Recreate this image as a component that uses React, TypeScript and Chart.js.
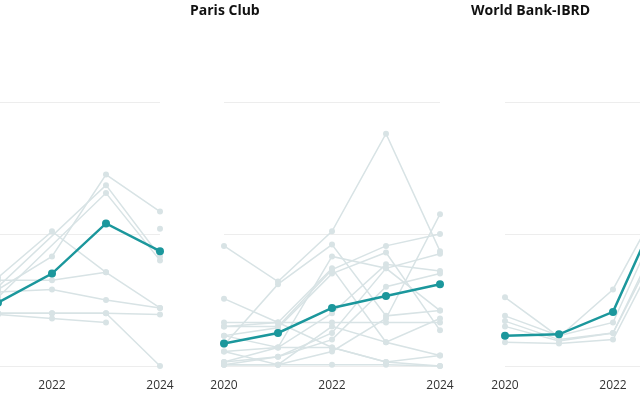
import React, { useEffect, useRef } from "react";
import { Chart, registerables } from "chart.js";

Chart.register(...registerables);

// ---- data ----
const years = ["2020", "2021", "2022", "2023", "2024"];

// left panel (cut off at the left edge of the picture)
const leftHighlight = [2.7, 4.8, 7.0, 10.8, 8.7];
const leftOthers: (number | null)[][] = [
  [5.0, 5.8, 8.3, 14.5, 11.7],
  [4.6, 6.0, null, 13.7, 8.3],
  [5.0, 5.2, null, 13.1, 8.0],
  [6.1, 6.7, 10.2, 7.1, 4.4],
  [6.3, 6.5, 6.5, 7.1, null],
  [5.4, 5.6, 5.8, 5.0, 4.4],
  [4.0, 4.0, 4.0, 4.0, 3.9],
  [4.0, 3.9, 3.6, 3.3, null],
  [3.5, 4.0, 4.0, 4.0, 0.0],
  [null, null, null, null, 10.4],
];

// Paris Club
const parisHighlight = [1.7, 2.5, 4.4, 5.3, 6.2];
const parisOthers: (number | null)[][] = [
  [9.1, 6.4, 10.2, 17.6, 8.7],
  [1.6, 6.2, 9.2, 3.8, 4.2],
  [5.1, 3.3, 1.4, 0.3, 0.8],
  [3.3, 3.3, 3.3, 3.3, 3.3],
  [3.0, 3.0, 7.3, 9.1, 10.0],
  [2.3, 2.9, 7.0, 8.6, 2.7],
  [1.1, 1.4, 4.0, 7.7, 7.2],
  [0.3, 0.7, 2.0, 6.0, 7.0],
  [0.1, 0.1, 1.1, 3.6, 11.5],
  [0.1, 0.7, 2.5, 7.4, 8.5],
  [1.1, 0.1, 3.0, 1.8, 3.6],
  [0.3, 1.4, 1.4, 0.3, 0.0],
  [0.1, 0.1, 0.1, 0.1, 0.0],
  [2.3, 1.4, 8.3, 7.4, 4.2],
  [3.0, 3.3, 7.4, 1.8, 0.8],
];

// World Bank-IBRD
const ibrdHighlight = [2.3, 2.4, 4.1, 13.2, 14.8];
const ibrdOthers: (number | null)[][] = [
  [5.2, 2.2, 5.8, 13.3, 12.6],
  [3.8, 2.3, 3.3, 12.3, 11.8],
  [3.4, 2.0, 2.5, 11.0, 10.3],
  [1.8, 1.7, 2.0, 9.9, 9.4],
  [3.0, 1.9, 2.5, 10.5, 10.0],
];

const yMin = 0;
const yMax = 20;
const yStep = 10;

// ---- styles ----
const TEAL = "#1b979c";
const GREY = "#d8e3e5";
const GRID = "#ededed";
const PLOT_W = 216;
const PAD = 24;
const TOP = 102;
const BOTTOM = 366;
const H = 400;

type PanelProps = {
  left: number;
  title?: string;
  highlight: (number | null)[];
  others: (number | null)[][];
};

function Panel({ left, title, highlight, others }: PanelProps) {
  const ref = useRef<HTMLCanvasElement>(null);
  useEffect(() => {
    if (!ref.current) return;
    const datasets: any[] = [
      {
        data: highlight,
        borderColor: TEAL,
        backgroundColor: TEAL,
        pointBackgroundColor: TEAL,
        borderWidth: 2.5,
        pointRadius: 4,
        pointBorderWidth: 0,
        order: 0,
        clip: false,
        spanGaps: true,
      },
      ...others.map((d) => ({
        data: d,
        borderColor: GREY,
        backgroundColor: GREY,
        pointBackgroundColor: GREY,
        borderWidth: 1.5,
        pointRadius: 3,
        pointBorderWidth: 0,
        order: 1,
        clip: false,
        spanGaps: true,
      })),
    ];
    const chart = new Chart(ref.current, {
      type: "line",
      data: { labels: years, datasets },
      options: {
        animation: false,
        responsive: false,
        maintainAspectRatio: false,
        events: [],
        layout: { padding: { left: PAD, right: PAD, top: TOP, bottom: 0 } },
        plugins: {
          legend: { display: false },
          tooltip: { enabled: false },
          title: { display: false },
        },
        scales: {
          x: {
            type: "category",
            offset: false,
            grid: { display: false, drawTicks: false },
            border: { display: false },
            ticks: {
              autoSkip: false,
              maxRotation: 0,
              padding: 12,
              color: "#333333",
              font: { family: "'Open Sans'", size: 12 },
              callback: (_v: any, i: number) => (i % 2 === 0 ? years[i] : ""),
            },
            afterFit: (s: any) => {
              s.height = H - BOTTOM;
              s.paddingLeft = 0;
              s.paddingRight = 0;
            },
          },
          y: {
            min: yMin,
            max: yMax,
            ticks: { display: false, stepSize: yStep },
            grid: { color: GRID, drawTicks: false, lineWidth: 1 },
            border: { display: false },
            afterFit: (s: any) => {
              s.width = 0;
              s.paddingTop = 0;
              s.paddingBottom = 0;
            },
          },
        },
      } as any,
    });
    return () => chart.destroy();
  }, [highlight, others]);

  return (
    <>
      <canvas
        ref={ref}
        width={PLOT_W + 2 * PAD}
        height={H}
        style={{
          position: "absolute",
          left: left - PAD,
          top: 0,
          width: PLOT_W + 2 * PAD,
          height: H,
        }}
      />
      {title && (
        <div
          style={{
            position: "absolute",
            left: left - 34,
            top: 3,
            fontFamily: "'Open Sans', sans-serif",
            fontWeight: 700,
            fontSize: 14,
            lineHeight: "14px",
            color: "#111111",
            whiteSpace: "nowrap",
          }}
        >
          {title}
        </div>
      )}
    </>
  );
}

export default function App() {
  return (
    <div
      style={{
        position: "fixed",
        left: 0,
        top: 0,
        width: 640,
        height: 400,
        overflow: "hidden",
        background: "#ffffff",
      }}
    >
      <Panel left={-56} highlight={leftHighlight} others={leftOthers} />
      <Panel left={224} title="Paris Club" highlight={parisHighlight} others={parisOthers} />
      <Panel left={505} title="World Bank-IBRD" highlight={ibrdHighlight} others={ibrdOthers} />
    </div>
  );
}
